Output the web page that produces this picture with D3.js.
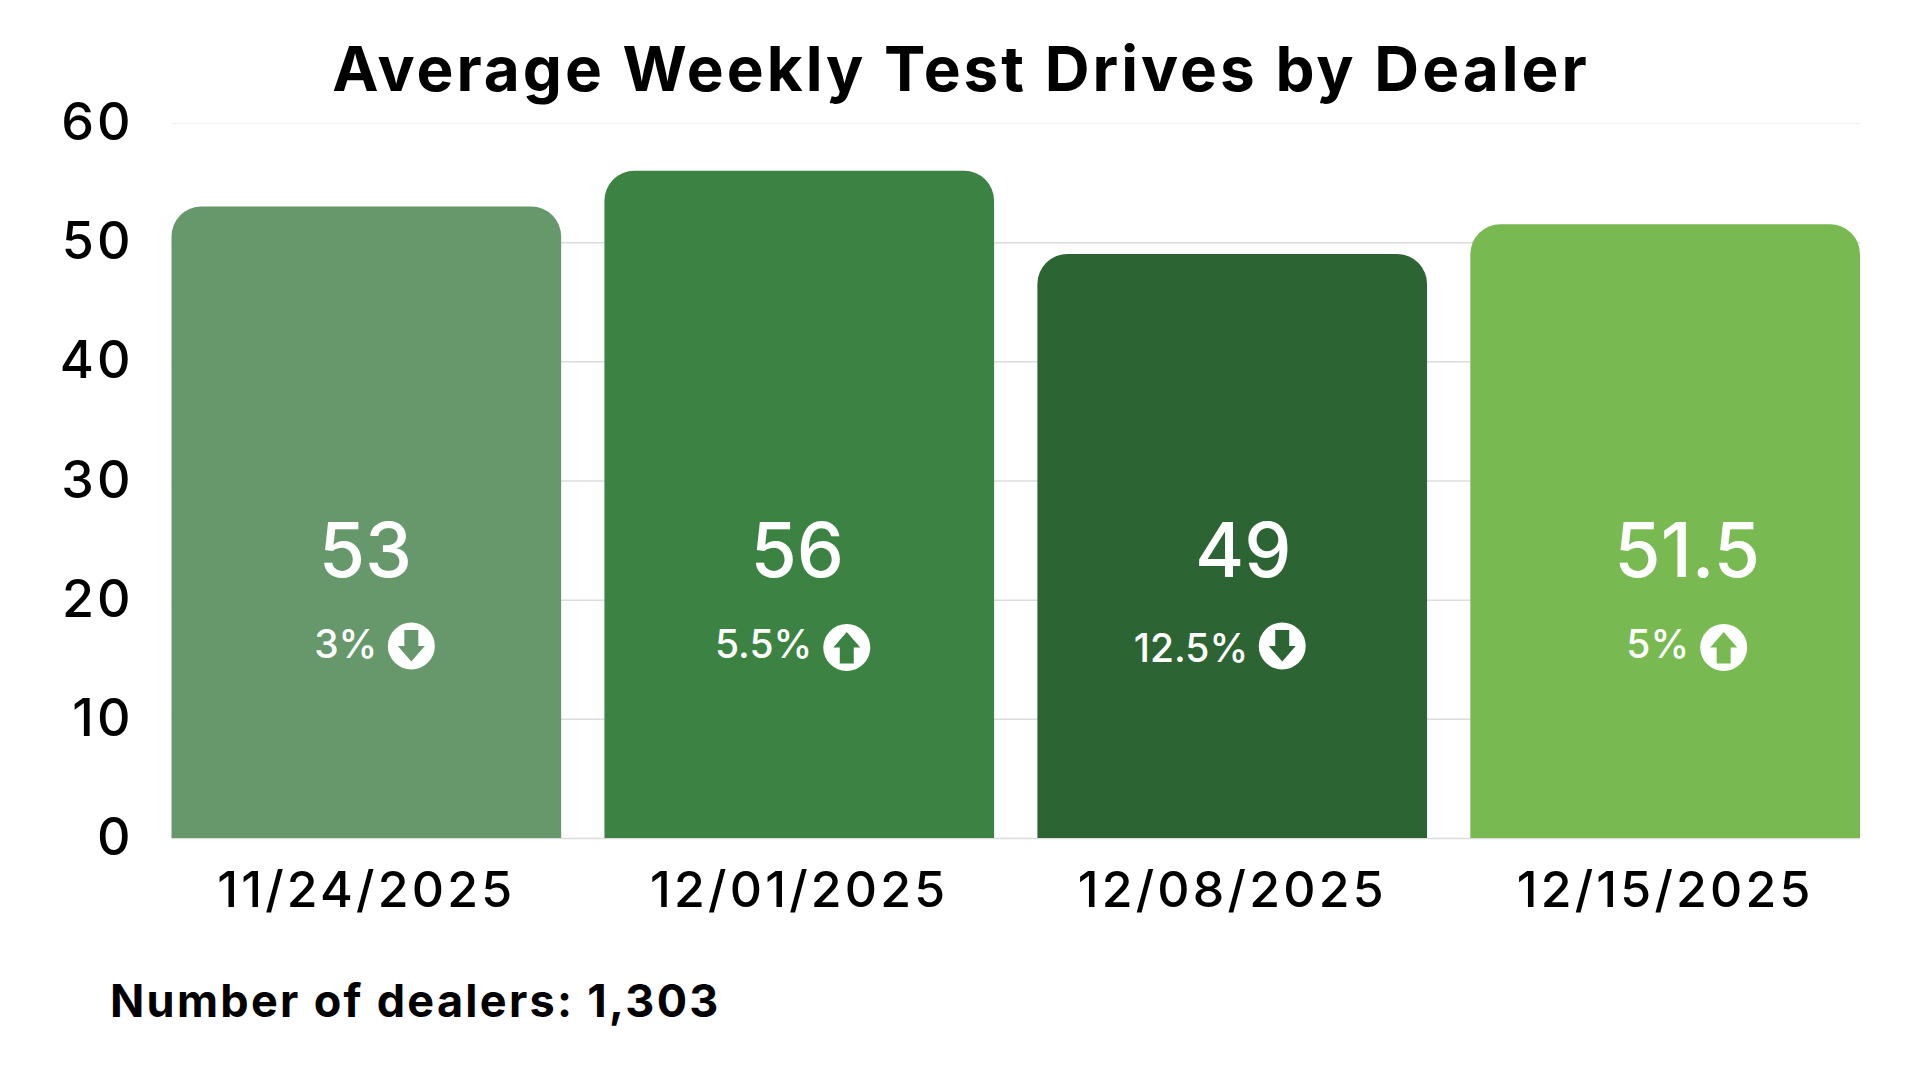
<!DOCTYPE html>
<html>
<head>
<meta charset="utf-8">
<script src="https://cdn.jsdelivr.net/npm/d3@7"></script>
<style>
  html, body { margin: 0; background: #fff; }
  svg { display: block; }
  text { font-family: Inter, "Open Sans", sans-serif; }
</style>
</head>
<body>
<svg id="canvas" width="1920" height="1080"></svg>
<script>
// data
const weeks = ["11/24/2025", "12/01/2025", "12/08/2025", "12/15/2025"];
const testDrives = [53, 56, 49, 51.5];
const changePct = ["3%", "5.5%", "12.5%", "5%"];
const changeDir = ["down", "up", "down", "up"];
const barColors = ["#67986c", "#3c8343", "#2d6433", "#78b951"];
const yTicks = [0, 10, 20, 30, 40, 50, 60];

const titleText = "Average Weekly Test Drives by Dealer";
const noteText = "Number of dealers: 1,303";

// labels in the original sit a little off the bar centre
const valueShift = [-1, -2, 11, 22];
const changeShift = [3, 5, 8, 16];
const badgeShift = [0, 2.5, 5, 13.5];
const changeDrop = [0, 0, 4, 0];

const plotLeft = 171.5, plotRight = 1860, plotTop = 123, plotBottom = 838;
const radius = 30;

const canvas = d3.select("#canvas");

const x = d3.scaleBand().domain(weeks).range([plotLeft, plotRight]).paddingInner(0.1).paddingOuter(0);
const y = d3.scaleLinear().domain([0, 60]).range([plotBottom, plotTop]);

canvas.append("text")
  .attr("x", 961).attr("y", 91)
  .attr("text-anchor", "middle")
  .attr("font-size", 62).attr("font-weight", 700)
  .attr("letter-spacing", 3)
  .attr("fill", "#000")
  .text(titleText);

// y axis, its ticks double as the gridlines
const yAxis = canvas.append("g")
  .attr("transform", "translate(" + plotLeft + ",0)")
  .call(d3.axisLeft(y).tickValues(yTicks).tickSize(-(plotRight - plotLeft)).tickPadding(38));
yAxis.select(".domain").remove();
yAxis.selectAll("line")
  .attr("stroke", (d) => (d === 60 ? "#f2f2f2" : "#dcdcdc"))
  .attr("stroke-width", 1.5);
yAxis.selectAll("text")
  .attr("font-size", 52).attr("font-family", "Inter").attr("font-weight", 500)
  .attr("letter-spacing", 3)
  .attr("fill", "#000");

const xAxis = canvas.append("g")
  .attr("transform", "translate(0," + plotBottom + ")")
  .call(d3.axisBottom(x).tickSize(0).tickPadding(33));
xAxis.select(".domain").remove();
xAxis.selectAll("text")
  .attr("font-size", 50).attr("font-family", "Inter").attr("font-weight", 500)
  .attr("letter-spacing", 3.2)
  .attr("fill", "#000");

const barPath = (d, i) => {
  const x0 = x(weeks[i]), x1 = x0 + x.bandwidth(), y0 = y(d), y1 = y(0);
  const p = d3.path();
  p.moveTo(x0, y1);
  p.lineTo(x0, y0 + radius);
  p.arcTo(x0, y0, x0 + radius, y0, radius);
  p.lineTo(x1 - radius, y0);
  p.arcTo(x1, y0, x1, y0 + radius, radius);
  p.lineTo(x1, y1);
  p.closePath();
  return p.toString();
};

canvas.selectAll(".bar")
  .data(testDrives)
  .enter()
  .append("path")
  .attr("class", "bar")
  .attr("fill", (d, i) => barColors[i])
  .attr("d", barPath);

const mid = (i) => x(weeks[i]) + x.bandwidth() / 2;

canvas.selectAll(".value")
  .data(testDrives)
  .enter()
  .append("text")
  .attr("class", "value")
  .attr("x", (d, i) => mid(i) + valueShift[i])
  .attr("y", 577)
  .attr("text-anchor", "middle")
  .attr("font-size", 75).attr("font-weight", 500)
  .attr("fill", "#fff")
  .text((d) => d);

// change label and arrow badge sit together, text ends left of the badge
canvas.selectAll(".change")
  .data(changePct)
  .enter()
  .append("text")
  .attr("class", "change")
  .attr("x", (d, i) => mid(i) + 8 + changeShift[i])
  .attr("y", (d, i) => 658 + changeDrop[i])
  .attr("text-anchor", "end")
  .attr("font-size", 39).attr("font-weight", 500)
  .attr("fill", "#fff")
  .text((d) => d);

const badges = canvas.selectAll(".badge")
  .data(changeDir)
  .enter()
  .append("g")
  .attr("class", "badge")
  .attr("transform", (d, i) => "translate(" + (mid(i) + 45 + badgeShift[i]) + "," + (d === "up" ? 647.5 : 646) + ")");

badges.append("circle").attr("r", 23.5).attr("fill", "#fff");

// arrow pointing up, flipped for the down ones
badges.append("path")
  .attr("d", "M0,-15.5 L13.5,0 L7,0 L7,16 L-7,16 L-7,0 L-13.5,0 Z")
  .attr("transform", (d) => (d === "down" ? "scale(1,-1)" : null))
  .attr("fill", (d, i) => barColors[i]);

canvas.append("text")
  .attr("x", 110).attr("y", 1017)
  .attr("font-size", 45).attr("font-weight", 700)
  .attr("letter-spacing", 2.3)
  .attr("fill", "#000")
  .text(noteText);
</script>
</body>
</html>
